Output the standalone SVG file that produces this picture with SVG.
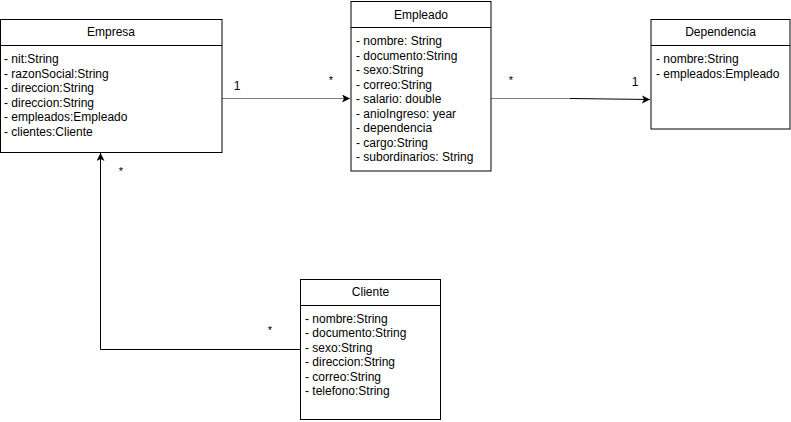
<svg xmlns="http://www.w3.org/2000/svg" width="791" height="422" viewBox="0 0 791 422">
<style>
.box{fill:#fff;stroke:#000;stroke-width:1}
.t{font-family:"Liberation Sans",Arial,sans-serif;font-size:12px;fill:#000}
.c{text-anchor:middle}
.s{font-size:11px}
.ln{fill:none;stroke-width:1}
</style>
<defs>
<marker id="ar" markerWidth="10" markerHeight="10" refX="8" refY="4" orient="auto" markerUnits="userSpaceOnUse">
<path d="M0,0 L8,4 L0,8 L2,4 Z" fill="#000"/>
</marker>
</defs>
<rect width="791" height="422" fill="#fff"/>
<g id="connectors">
<line class="ln" x1="222" y1="98.5" x2="350" y2="98.5" stroke="#808080" marker-end="url(#ar)"/>
<path class="ln" d="M491,98.5 L570,98.5" stroke="#808080"/>
<path class="ln" d="M570,98.5 L650,99.5" stroke="#000" marker-end="url(#ar)"/>
<path class="ln" d="M300,349.5 L100.5,349.5 L100.5,153" stroke="#000" marker-end="url(#ar)"/>
<text class="t" x="237" y="90" text-anchor="middle">1</text>
<text class="t s" x="331" y="84" text-anchor="middle">*</text>
<text class="t s" x="511" y="84" text-anchor="middle">*</text>
<text class="t" x="635" y="86" text-anchor="middle">1</text>
<text class="t s" x="121" y="175" text-anchor="middle">*</text>
<text class="t s" x="270" y="334" text-anchor="middle">*</text>
</g>
<g id="empresa">
<rect class="box" x="0.5" y="19.5" width="221.5" height="133"/>
<line x1="0.5" y1="45.5" x2="222" y2="45.5" stroke="#000"/>
<text class="t c" x="111" y="36">Empresa</text>
<text class="t" x="4" y="63">- nit:String</text>
<text class="t" x="4" y="77.5">- razonSocial:String</text>
<text class="t" x="4" y="92">- direccion:String</text>
<text class="t" x="4" y="106.5">- direccion:String</text>
<text class="t" x="4" y="121">- empleados:Empleado</text>
<text class="t" x="4" y="135.5">- clientes:Cliente</text>
</g>
<g id="empleado">
<rect class="box" x="351" y="1.5" width="140" height="169.5"/>
<line x1="351" y1="27.5" x2="491" y2="27.5" stroke="#000"/>
<text class="t c" x="421" y="19">Empleado</text>
<text class="t" x="356" y="45">- nombre: String</text>
<text class="t" x="356" y="59.5">- documento:String</text>
<text class="t" x="356" y="74">- sexo:String</text>
<text class="t" x="356" y="88.5">- correo:String</text>
<text class="t" x="356" y="103">- salario: double</text>
<text class="t" x="356" y="117.5">- anioIngreso: year</text>
<text class="t" x="356" y="132">- dependencia</text>
<text class="t" x="356" y="146.5">- cargo:String</text>
<text class="t" x="356" y="161">- subordinarios: String</text>
</g>
<g id="dependencia">
<rect class="box" x="651" y="19.5" width="139" height="109.5"/>
<line x1="651" y1="45.5" x2="790" y2="45.5" stroke="#000"/>
<text class="t c" x="720.5" y="36">Dependencia</text>
<text class="t" x="656" y="63">- nombre:String</text>
<text class="t" x="656" y="77.5">- empleados:Empleado</text>
</g>
<g id="cliente">
<rect class="box" x="300.5" y="279.5" width="140" height="140"/>
<line x1="300.5" y1="305.5" x2="440.5" y2="305.5" stroke="#000"/>
<text class="t c" x="370.5" y="296">Cliente</text>
<text class="t" x="305" y="322.5">- nombre:String</text>
<text class="t" x="305" y="337">- documento:String</text>
<text class="t" x="305" y="351.5">- sexo:String</text>
<text class="t" x="305" y="366">- direccion:String</text>
<text class="t" x="305" y="380.5">- correo:String</text>
<text class="t" x="305" y="395">- telefono:String</text>
</g>
</svg>
